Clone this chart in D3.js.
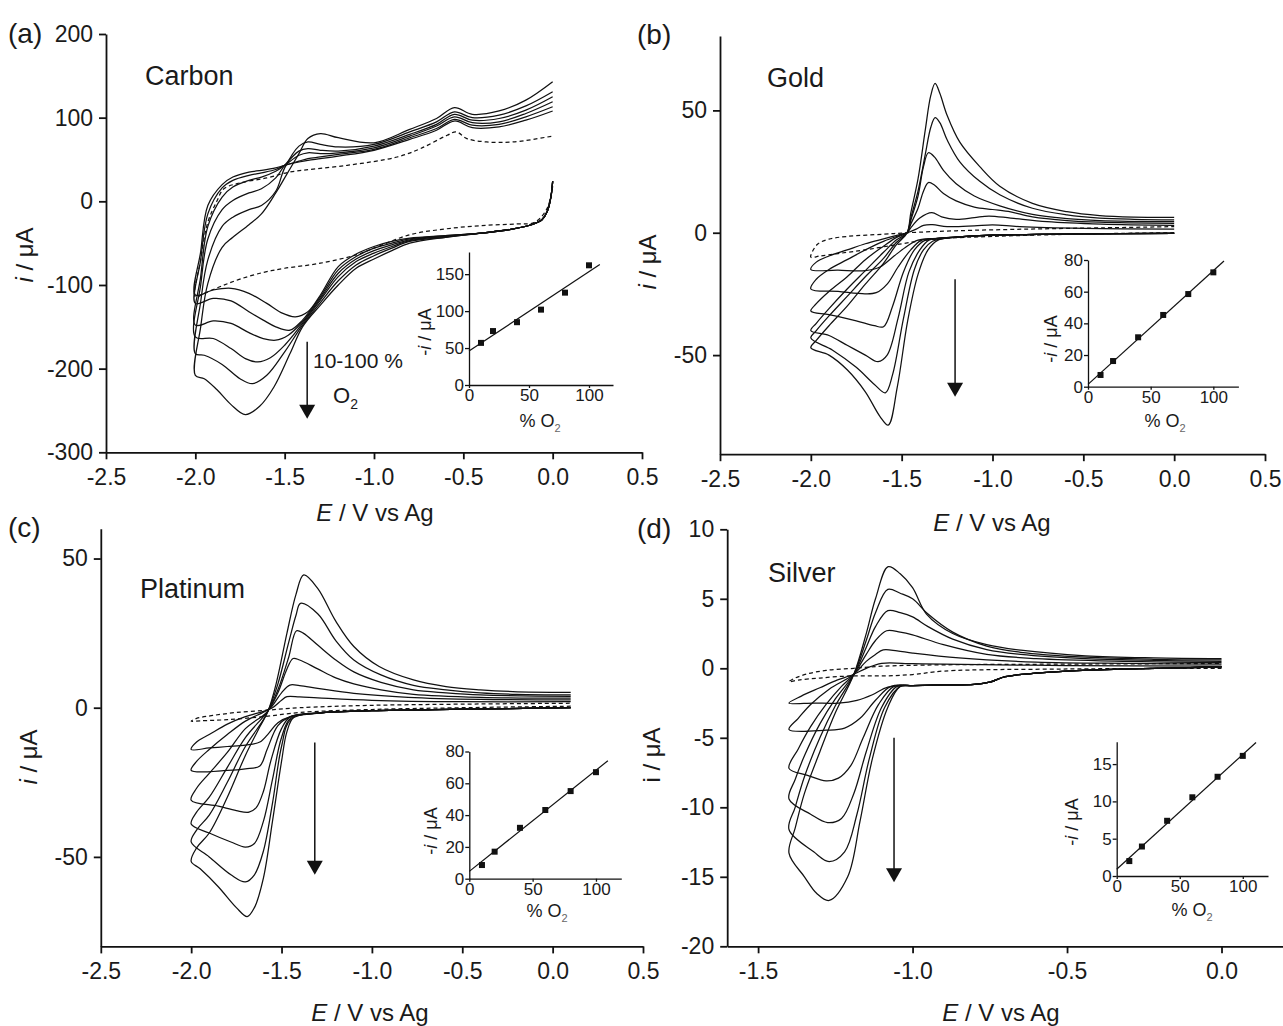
<!DOCTYPE html>
<html>
<head>
<meta charset="utf-8">
<script src="https://cdn.jsdelivr.net/npm/d3@7"></script>
<style>
	body { margin: 0; background: #fff; }
	svg text { font-family: "Liberation Sans", Arial, sans-serif; fill: #1a1a1a; }
</style>
</head>
<body>
<svg id="fig" width="1283" height="1026"></svg>
<script>

// ---- data: each scan is a list of [E (V vs Ag), i (uA)] ----
// first entry of every panel is the dashed (0 % O2) scan, then 10, 20, 40, 60, 80, 100 % O2

var o2Levels = [10, 20, 40, 60, 80, 100];

var carbonScans = [
	[[0,18],[-0.03,-8],[-0.1,-25],[-0.2,-27],[-0.4,-29],[-0.6,-33],[-0.8,-40],[-1.0,-56],[-1.1,-64],[-1.3,-74],[-1.5,-80],[-1.62,-85],[-1.75,-93],[-1.85,-101],[-1.95,-110],[-2.0,-114],
	 [-1.97,-70],[-1.93,-25],[-1.88,0],[-1.84,15],[-1.75,22],[-1.6,28],[-1.47,35],[-1.15,43],[-0.87,53],[-0.74,63],[-0.59,79],[-0.54,83],[-0.48,75],[-0.37,71],[-0.22,71],[0,78]],
	[[0,24],[-0.01,5],[-0.03,-12],[-0.06,-22],[-0.12,-28],[-0.22,-33],[-0.4,-38],[-0.6,-41],[-0.8,-44],[-0.9,-48],[-1.0,-54],[-1.1,-63],[-1.2,-78],[-1.3,-112],[-1.37,-132],[-1.44,-138],[-1.52,-133],[-1.6,-122],[-1.7,-110],[-1.8,-104],[-1.9,-106],[-2.0,-112],
	 [-1.97,-60],[-1.93,-5],[-1.85,20],[-1.79,29],[-1.7,35],[-1.63,37],[-1.55,40],[-1.5,43],[-1.42,47],[-1.37,49],[-1.3,51],[-1.2,54],[-1.0,61],[-0.8,74],[-0.65,85],[-0.55,96],[-0.45,88],[-0.3,89],[-0.15,97],[0,108]],
	[[0,24],[-0.01,5],[-0.03,-12],[-0.06,-22],[-0.12,-28],[-0.22,-33],[-0.4,-38],[-0.6,-41],[-0.8,-45],[-0.9,-50],[-1.0,-56],[-1.1,-66],[-1.2,-82],[-1.3,-114],[-1.4,-142],[-1.47,-154],[-1.55,-150],[-1.62,-142],[-1.7,-132],[-1.8,-119],[-1.9,-116],[-2.0,-122],
	 [-1.97,-70],[-1.93,-15],[-1.85,16],[-1.79,25],[-1.7,31],[-1.63,34],[-1.55,38],[-1.5,43],[-1.42,48],[-1.37,51],[-1.3,53],[-1.2,56],[-1.0,62],[-0.8,76],[-0.65,87],[-0.55,98],[-0.45,91],[-0.3,92],[-0.15,101],[0,113]],
	[[0,24],[-0.01,5],[-0.03,-12],[-0.06,-22],[-0.12,-28],[-0.22,-33],[-0.4,-38],[-0.6,-42],[-0.8,-46],[-0.9,-52],[-1.0,-59],[-1.1,-69],[-1.2,-86],[-1.3,-116],[-1.4,-144],[-1.48,-160],[-1.55,-166],[-1.62,-164],[-1.7,-157],[-1.8,-146],[-1.9,-143],[-2.0,-148],
	 [-1.97,-90],[-1.93,-30],[-1.85,5],[-1.79,17],[-1.7,25],[-1.63,29],[-1.55,36],[-1.5,43],[-1.42,55],[-1.37,58],[-1.3,57],[-1.2,58],[-1.0,64],[-0.8,78],[-0.65,90],[-0.55,101],[-0.45,94],[-0.3,95],[-0.15,105],[0,119]],
	[[0,24],[-0.01,5],[-0.03,-12],[-0.06,-22],[-0.12,-28],[-0.22,-33],[-0.4,-38],[-0.6,-42],[-0.8,-47],[-0.9,-54],[-1.0,-62],[-1.1,-72],[-1.2,-90],[-1.3,-118],[-1.4,-146],[-1.5,-172],[-1.58,-187],[-1.65,-192],[-1.72,-188],[-1.8,-176],[-1.9,-164],[-2.0,-162],
	 [-1.97,-100],[-1.93,-45],[-1.85,-10],[-1.79,1],[-1.7,10],[-1.63,15],[-1.55,28],[-1.5,43],[-1.42,60],[-1.37,63],[-1.3,61],[-1.2,60],[-1.0,66],[-0.8,80],[-0.65,92],[-0.55,104],[-0.45,97],[-0.3,99],[-0.15,109],[0,125]],
	[[0,24],[-0.01,5],[-0.03,-12],[-0.06,-22],[-0.12,-28],[-0.22,-33],[-0.4,-38],[-0.6,-43],[-0.8,-48],[-0.9,-56],[-1.0,-65],[-1.1,-76],[-1.2,-95],[-1.3,-121],[-1.4,-148],[-1.5,-180],[-1.6,-208],[-1.68,-218],[-1.75,-212],[-1.85,-195],[-1.95,-184],[-2.0,-182],
	 [-1.97,-120],[-1.93,-70],[-1.85,-30],[-1.79,-19],[-1.7,-10],[-1.63,-5],[-1.55,12],[-1.5,40],[-1.42,66],[-1.37,71],[-1.3,68],[-1.2,65],[-1.0,68],[-0.8,83],[-0.65,95],[-0.55,107],[-0.45,100],[-0.3,103],[-0.15,114],[0,131]],
	[[0,24],[-0.01,5],[-0.03,-12],[-0.06,-22],[-0.12,-28],[-0.22,-33],[-0.4,-38],[-0.6,-43],[-0.8,-50],[-0.9,-59],[-1.0,-69],[-1.1,-80],[-1.2,-100],[-1.3,-124],[-1.4,-150],[-1.47,-182],[-1.56,-222],[-1.64,-245],[-1.72,-255],[-1.8,-243],[-1.88,-225],[-1.95,-212],[-2.0,-208],
	 [-1.97,-150],[-1.93,-98],[-1.85,-55],[-1.79,-43],[-1.7,-28],[-1.63,-15],[-1.55,10],[-1.5,28],[-1.42,57],[-1.37,75],[-1.3,81],[-1.2,76],[-1.0,70],[-0.8,86],[-0.65,99],[-0.55,112],[-0.45,104],[-0.3,108],[-0.15,121],[0,143]]
];

var goldScans = [
	[[0,0],[-0.5,-0.5],[-1.0,-1.5],[-1.3,-2.5],[-1.5,-4.5],[-1.7,-7],[-1.85,-8.5],[-1.95,-9.5],[-2.0,-10],
	 [-1.99,-7.5],[-1.96,-4.5],[-1.9,-2.6],[-1.8,-1.5],[-1.6,-0.6],[-1.47,0],[-1.2,0.8],[-0.8,1.5],[-0.4,2],[0,2.5]],
	[[0,-0.3],[-0.5,-0.5],[-1.0,-1],[-1.2,-1.8],[-1.3,-2.3],[-1.41,-3],[-1.48,-6],[-1.55,-10],[-1.62,-14],[-1.7,-15.5],[-1.85,-15.3],[-2.0,-15],
	 [-1.97,-12],[-1.9,-9.5],[-1.8,-7],[-1.7,-4.5],[-1.6,-2.5],[-1.5,-0.6],[-1.47,0],[-1.42,1.5],[-1.38,3],[-1.33,3.3],[-1.25,2.5],[-1.1,2.8],[-1.0,3.2],[-0.85,2.5],[-0.5,1.8],[0,1.5]],
	[[0,-0.3],[-0.5,-0.5],[-1.0,-1],[-1.2,-1.8],[-1.3,-2.3],[-1.39,-3],[-1.45,-7],[-1.52,-14],[-1.58,-21],[-1.64,-24.5],[-1.7,-25],[-1.85,-24],[-2.0,-23],
	 [-1.97,-19],[-1.9,-15],[-1.8,-11],[-1.7,-7],[-1.6,-3.5],[-1.5,-0.8],[-1.47,0],[-1.45,2],[-1.4,6],[-1.334,8.2],[-1.28,6.5],[-1.2,5.5],[-1.1,6.2],[-1.02,6.8],[-0.9,6],[-0.7,4.5],[-0.4,3.5],[0,3]],
	[[0,-0.3],[-0.5,-0.5],[-1.0,-1],[-1.2,-1.8],[-1.3,-2.3],[-1.37,-3],[-1.43,-7],[-1.49,-16],[-1.55,-30],[-1.6,-38.4],[-1.65,-38],[-1.75,-36],[-1.9,-33.5],[-2.0,-32],
	 [-1.97,-29],[-1.9,-24],[-1.8,-18],[-1.7,-11],[-1.6,-5.5],[-1.53,-2],[-1.47,0],[-1.45,3.5],[-1.41,10],[-1.38,17],[-1.353,20.5],[-1.32,19.5],[-1.27,16],[-1.2,13],[-1.1,10.5],[-1.0,9.5],[-0.9,8.5],[-0.78,6.5],[-0.59,5],[-0.41,4.3],[0,3.8]],
	[[0,-0.3],[-0.5,-0.5],[-1.0,-1],[-1.2,-1.8],[-1.3,-2.3],[-1.35,-3],[-1.4,-7],[-1.46,-16],[-1.52,-35],[-1.58,-50],[-1.63,-52.7],[-1.7,-50],[-1.8,-46],[-1.9,-42],[-2.0,-40],
	 [-1.97,-37],[-1.9,-31],[-1.8,-23],[-1.7,-15.5],[-1.6,-8],[-1.53,-3],[-1.47,0],[-1.45,5],[-1.41,15],[-1.38,27],[-1.353,32.7],[-1.32,31],[-1.27,25.5],[-1.2,20],[-1.1,15],[-0.96,11],[-0.78,7.5],[-0.59,5.8],[-0.41,5],[0,4.5]],
	[[0,-0.3],[-0.5,-0.5],[-1.0,-1],[-1.2,-1.8],[-1.28,-2.5],[-1.33,-3.5],[-1.38,-7],[-1.43,-15],[-1.49,-35],[-1.55,-58],[-1.59,-65.4],[-1.65,-62],[-1.75,-55],[-1.88,-48],[-2.0,-43],
	 [-1.97,-40],[-1.9,-34],[-1.8,-26],[-1.7,-18],[-1.6,-10.5],[-1.53,-4],[-1.47,0],[-1.45,6],[-1.41,17],[-1.37,32],[-1.34,43],[-1.316,47],[-1.29,45],[-1.25,38],[-1.18,29],[-1.07,21],[-0.96,15.5],[-0.78,10],[-0.59,7.3],[-0.41,6],[-0.22,5.5],[0,5.3]],
	[[0,-0.3],[-0.5,-0.5],[-1.0,-1],[-1.2,-1.8],[-1.3,-3],[-1.355,-7],[-1.41,-17],[-1.467,-36],[-1.524,-63],[-1.574,-78.6],[-1.62,-75],[-1.7,-65],[-1.8,-56],[-1.9,-50],[-2.0,-47],
	 [-1.97,-44],[-1.9,-38],[-1.8,-30],[-1.7,-21],[-1.6,-12.5],[-1.53,-5],[-1.47,0],[-1.45,8],[-1.41,22],[-1.37,42],[-1.34,56],[-1.316,61],[-1.29,57],[-1.25,48],[-1.18,37],[-1.07,27],[-0.96,19],[-0.78,12],[-0.59,8.6],[-0.41,7],[-0.22,6.4],[0,6.3]]
];

var platinumScans = [
	[[0.1,0.5],[-0.5,0],[-1.0,-0.6],[-1.4,-1.6],[-1.6,-3],[-1.8,-4],[-1.95,-4.4],[-2.0,-4.5],
	 [-1.97,-3.6],[-1.88,-2.6],[-1.75,-1.6],[-1.574,-0.8],[-1.4,0],[-1.0,0.8],[-0.5,1.2],[0.1,1.5]],
	[[0.1,0],[-0.5,-0.5],[-1.0,-1],[-1.3,-1.8],[-1.45,-3],[-1.52,-5],[-1.57,-8.5],[-1.62,-11.5],[-1.7,-12.5],[-1.8,-13],[-1.9,-13.5],[-2.0,-14],
	 [-1.97,-11.5],[-1.9,-9],[-1.8,-5.5],[-1.7,-3],[-1.6,-1.2],[-1.55,0],[-1.5,2.5],[-1.47,3.7],[-1.4,3.6],[-1.3,3.3],[-1.0,2.5],[-0.5,2],[0.1,2]],
	[[0.1,0],[-0.5,-0.5],[-1.0,-1],[-1.3,-1.8],[-1.45,-3],[-1.52,-6],[-1.58,-14],[-1.62,-19.5],[-1.7,-20.5],[-1.8,-21],[-2.0,-21],
	 [-1.97,-18],[-1.9,-14],[-1.8,-9],[-1.7,-4.5],[-1.6,-1.5],[-1.56,0],[-1.5,5],[-1.454,7.6],[-1.4,7.4],[-1.3,6.5],[-1.1,4.8],[-0.8,3.5],[-0.4,2.8],[0.1,2.6]],
	[[0.1,0],[-0.5,-0.5],[-1.0,-1],[-1.3,-1.8],[-1.45,-3],[-1.5,-7],[-1.56,-18],[-1.6,-28],[-1.64,-33.5],[-1.68,-35],[-1.75,-34.5],[-1.85,-33],[-2.0,-31],
	 [-1.97,-27],[-1.9,-22],[-1.8,-15],[-1.7,-7],[-1.6,-2.5],[-1.574,-1],[-1.52,5],[-1.47,13],[-1.436,16.5],[-1.4,16],[-1.3,13],[-1.2,10],[-1.1,8],[-0.95,6],[-0.77,4.5],[-0.4,3.5],[0.1,3.2]],
	[[0.1,0],[-0.5,-0.5],[-1.0,-1],[-1.3,-1.8],[-1.45,-3.5],[-1.5,-10],[-1.55,-24],[-1.6,-38],[-1.65,-45.5],[-1.7,-46.7],[-1.78,-45],[-1.9,-42],[-2.0,-39],
	 [-1.97,-35],[-1.9,-30],[-1.8,-20],[-1.7,-10],[-1.6,-3],[-1.574,-1],[-1.52,6],[-1.46,17],[-1.417,25.8],[-1.38,25],[-1.3,21],[-1.2,16],[-1.1,12],[-0.95,8.5],[-0.77,6],[-0.59,5],[-0.4,4.3],[0.1,3.8]],
	[[0.1,0],[-0.5,-0.5],[-1.0,-1],[-1.3,-1.8],[-1.45,-4],[-1.5,-13],[-1.55,-32],[-1.6,-48],[-1.65,-56],[-1.7,-58.4],[-1.78,-56],[-1.9,-50],[-2.0,-45],
	 [-1.97,-41],[-1.9,-36],[-1.8,-25],[-1.7,-13],[-1.6,-4],[-1.574,-1],[-1.52,8],[-1.46,22],[-1.42,31],[-1.395,35],[-1.3,31.5],[-1.2,22.5],[-1.1,16],[-0.95,11],[-0.77,7.5],[-0.59,6],[-0.4,5],[-0.2,4.5],[0.1,4.3]],
	[[0.1,0],[-0.5,-0.5],[-1.0,-1],[-1.3,-1.8],[-1.43,-3],[-1.47,-8],[-1.5,-18],[-1.55,-38],[-1.6,-57],[-1.65,-67],[-1.69,-70],[-1.75,-67],[-1.85,-60],[-1.95,-54],[-2.0,-51.5],
	 [-1.97,-47],[-1.9,-42],[-1.8,-30],[-1.7,-16],[-1.62,-6.4],[-1.574,-1],[-1.53,8],[-1.47,25],[-1.42,38],[-1.377,44.5],[-1.3,40],[-1.2,29],[-1.1,20.5],[-0.96,13.8],[-0.77,9.3],[-0.59,7.1],[-0.4,6],[-0.22,5.4],[0.1,5.1]]
];

var silverScans = [
	[[0,0],[-0.5,-0.05],[-0.9,-0.2],[-1.0,-0.45],[-1.1,-0.55],[-1.2,-0.55],[-1.3,-0.7],[-1.37,-0.85],[-1.4,-0.96],
	 [-1.38,-0.7],[-1.34,-0.4],[-1.28,-0.15],[-1.19,0],[-1.1,0.15],[-0.9,0.25],[-0.5,0.3],[0,0.35]],
	[[0,0.1],[-0.3,-0.05],[-0.5,-0.2],[-0.6,-0.35],[-0.7,-0.6],[-0.75,-1.0],[-0.8,-1.15],[-0.9,-1.2],[-1.0,-1.25],[-1.08,-1.35],[-1.13,-1.9],[-1.18,-2.3],[-1.24,-2.5],[-1.32,-2.5],[-1.4,-2.5],
	 [-1.36,-2.0],[-1.3,-1.4],[-1.25,-0.9],[-1.19,-0.43],[-1.15,0],[-1.1,0.36],[-1.0,0.33],[-0.9,0.3],[-0.5,0.2],[0,0.15]],
	[[0,0.1],[-0.3,-0.05],[-0.5,-0.2],[-0.6,-0.35],[-0.7,-0.6],[-0.75,-1.0],[-0.8,-1.15],[-0.9,-1.2],[-1.0,-1.25],[-1.07,-1.3],[-1.12,-2.3],[-1.17,-3.6],[-1.22,-4.3],[-1.28,-4.45],[-1.4,-4.4],
	 [-1.37,-3.6],[-1.33,-2.6],[-1.27,-1.5],[-1.19,-0.43],[-1.15,0.5],[-1.12,1.0],[-1.095,1.32],[-1.05,1.25],[-1.0,1.1],[-0.85,0.75],[-0.6,0.45],[-0.3,0.35],[0,0.3]],
	[[0,0.1],[-0.3,-0.05],[-0.5,-0.2],[-0.6,-0.35],[-0.7,-0.6],[-0.75,-1.0],[-0.8,-1.15],[-0.9,-1.2],[-1.0,-1.25],[-1.06,-1.3],[-1.11,-2.6],[-1.16,-5],[-1.2,-7],[-1.24,-7.9],[-1.28,-8.1],[-1.34,-7.7],[-1.4,-7.2],
	 [-1.37,-5.8],[-1.33,-4.2],[-1.28,-2.6],[-1.23,-1.3],[-1.19,-0.43],[-1.15,1],[-1.12,2],[-1.084,2.7],[-1.04,2.6],[-1.0,2.4],[-0.9,1.7],[-0.76,1.0],[-0.6,0.7],[-0.3,0.5],[0,0.4]],
	[[0,0.1],[-0.3,-0.05],[-0.5,-0.2],[-0.6,-0.35],[-0.7,-0.6],[-0.75,-1.0],[-0.8,-1.15],[-0.9,-1.2],[-1.0,-1.25],[-1.05,-1.3],[-1.1,-2.8],[-1.15,-6],[-1.19,-9],[-1.23,-10.8],[-1.275,-11.1],[-1.33,-10.5],[-1.4,-9.4],
	 [-1.38,-8],[-1.35,-6.3],[-1.3,-4],[-1.25,-2.2],[-1.19,-0.43],[-1.15,1.5],[-1.12,3],[-1.08,4.15],[-1.04,4],[-1.0,3.7],[-0.95,3.0],[-0.87,2.1],[-0.76,1.35],[-0.65,1.0],[-0.44,0.7],[0,0.5]],
	[[0,0.1],[-0.3,-0.05],[-0.5,-0.2],[-0.6,-0.35],[-0.7,-0.6],[-0.75,-1.0],[-0.8,-1.15],[-0.9,-1.2],[-1.0,-1.25],[-1.04,-1.3],[-1.09,-2.8],[-1.14,-6.5],[-1.18,-10.5],[-1.22,-13.2],[-1.27,-13.9],[-1.32,-13.2],[-1.4,-11.6],
	 [-1.38,-10],[-1.35,-7.8],[-1.3,-5],[-1.25,-2.7],[-1.19,-0.43],[-1.15,2],[-1.12,4],[-1.08,5.68],[-1.04,5.4],[-1.0,5],[-0.95,3.9],[-0.87,2.6],[-0.76,1.6],[-0.65,1.15],[-0.44,0.8],[-0.22,0.65],[0,0.6]],
	[[0,0.1],[-0.3,-0.05],[-0.5,-0.2],[-0.6,-0.35],[-0.7,-0.6],[-0.75,-1.0],[-0.8,-1.15],[-0.9,-1.2],[-1.0,-1.25],[-1.04,-1.3],[-1.08,-2.8],[-1.13,-6.5],[-1.17,-11],[-1.21,-15],[-1.27,-16.7],[-1.31,-16.2],[-1.35,-15],[-1.4,-13.3],
	 [-1.38,-11.5],[-1.35,-9],[-1.3,-6],[-1.25,-3.2],[-1.19,-0.43],[-1.15,2.5],[-1.12,5],[-1.079,7.31],[-1.04,6.8],[-1.0,5.8],[-0.955,3.9],[-0.87,2.5],[-0.76,1.7],[-0.65,1.3],[-0.44,0.9],[-0.22,0.75],[0,0.7]]
];

// inset data: -i peak (uA) against % O2, plus the drawn fit line ends
var carbonPeaks = [57, 73, 85, 102, 125, 162];
var goldPeaks = [7.4, 16.2, 31.2, 45.3, 58.5, 72.2];
var platinumPeaks = [8.6, 17, 32, 43.2, 55.1, 67];
var silverPeaks = [2.0, 3.95, 7.4, 10.55, 13.3, 16.1];

var carbonFit = [[0, 46], [109, 163]];
var goldFit = [[0, 1.5], [108.5, 79.4]];
var platinumFit = [[0, 4.6], [109.4, 74.2]];
var silverFit = [[0, 0.9], [110.5, 17.9]];

// tick values
var wideETicks = [-2.5, -2.0, -1.5, -1.0, -0.5, 0.0, 0.5];
var silverETicks = [-1.5, -1.0, -0.5, 0.0];
var o2Ticks = [0, 50, 100];


var svg = d3.select("#fig");

var INK = "#111";

function styleAxis(a, fs, sw) {
	a.select(".domain").attr("stroke", INK).attr("stroke-width", sw);
	a.selectAll(".tick line").attr("stroke", INK).attr("stroke-width", sw);
	a.selectAll(".tick text")
		.attr("font-size", fs)
		.attr("font-family", '"Liberation Sans", Arial, sans-serif')
		.attr("fill", "#1a1a1a");
}

function drawPanel(p) {
	var g = svg.append("g");
	var x = d3.scaleLinear().domain(p.xDomain).range(p.xRange),
		y = d3.scaleLinear().domain(p.yDomain).range(p.yRange);

	var line = d3.line()
		.x(function (d) { return x(d[0]); })
		.y(function (d) { return y(d[1]); })
		.curve(d3.curveCatmullRom.alpha(0.5));

	g.selectAll(".scan")
		.data(p.scans)
		.enter().append("path")
		.attr("class", "scan")
		.attr("d", line)
		.attr("fill", "none")
		.attr("stroke", INK)
		.attr("stroke-width", 1.25)
		.attr("stroke-dasharray", function (d, k) { return k === 0 ? "4,3" : null; });

	var xa = g.append("g")
		.attr("transform", "translate(0," + p.yRange[0] + ")")
		.call(d3.axisBottom(x).tickValues(p.xTicks)
			.tickFormat(function (d) { return d.toFixed(1); })
			.tickSize(7).tickSizeOuter(0).tickPadding(9));
	styleAxis(xa, 23, 1.8);

	var ya = g.append("g")
		.attr("transform", "translate(" + p.xRange[0] + ",0)")
		.call(d3.axisLeft(y).tickValues(p.yTicks)
			.tickFormat(String)
			.tickSize(7).tickSizeOuter(0).tickPadding(6));
	styleAxis(ya, 23, 1.8);

	// concentration arrow
	var ax = x(p.arrow[0]), a0 = y(p.arrow[1]), a1 = y(p.arrow[2]);
	g.append("line")
		.attr("x1", ax).attr("x2", ax)
		.attr("y1", a0).attr("y2", a1 - 12)
		.attr("stroke", INK).attr("stroke-width", 1.5);
	g.append("path")
		.attr("d", "M" + (ax - 8) + "," + (a1 - 14) + "L" + (ax + 8) + "," + (a1 - 14) + "L" + ax + "," + a1 + "Z")
		.attr("fill", INK);

	return g;
}

function drawInset(p) {
	var g = svg.append("g");
	var x = d3.scaleLinear().domain([0, 120]).range(p.xRange),
		y = d3.scaleLinear().domain(p.yDomain).range(p.yRange);

	g.append("line")
		.attr("x1", x(p.fit[0][0])).attr("y1", y(p.fit[0][1]))
		.attr("x2", x(p.fit[1][0])).attr("y2", y(p.fit[1][1]))
		.attr("stroke", INK).attr("stroke-width", 1.2);

	g.selectAll(".pt")
		.data(p.peaks)
		.enter().append("rect")
		.attr("class", "pt")
		.attr("x", function (d, k) { return x(o2Levels[k]) - 3; })
		.attr("y", function (d) { return y(d) - 3; })
		.attr("width", 6).attr("height", 6)
		.attr("fill", INK);

	var xa = g.append("g")
		.attr("transform", "translate(0," + p.yRange[0] + ")")
		.call(d3.axisBottom(x).tickValues(o2Ticks).tickSize(3).tickSizeOuter(0).tickPadding(1));
	styleAxis(xa, 17, 1.3);

	var ya = g.append("g")
		.attr("transform", "translate(" + p.xRange[0] + ",0)")
		.call(d3.axisLeft(y).tickValues(p.yTicks).tickSize(4).tickSizeOuter(0).tickPadding(1));
	styleAxis(ya, 17, 1.3);

	// "-i / uA"
	var yl = g.append("text")
		.attr("transform", "translate(" + p.yLabel[0] + "," + p.yLabel[1] + ") rotate(-90)")
		.attr("text-anchor", "middle")
		.attr("dy", "0.35em")
		.attr("font-size", 18);
	yl.append("tspan").text("-");
	yl.append("tspan").attr("font-style", "italic").text("i");
	yl.append("tspan").text(" / \u03bcA");

	// "% O2"
	var xl = g.append("text")
		.attr("x", p.xLabel[0]).attr("y", p.xLabel[1])
		.attr("text-anchor", "middle")
		.attr("font-size", 18);
	xl.append("tspan").text("% O");
	xl.append("tspan").attr("font-size", 11).attr("dy", 5).attr("fill", "#666").text("2");
}

function label(txt, xx, yy, fs) {
	return svg.append("text").attr("x", xx).attr("y", yy).attr("font-size", fs).text(txt);
}

function eTitle(cx, yy) {
	var t = svg.append("text").attr("x", cx).attr("y", yy)
		.attr("text-anchor", "middle").attr("font-size", 24);
	t.append("tspan").attr("font-style", "italic").text("E");
	t.append("tspan").text(" / V vs Ag");
}

function iTitle(cx, cy, italic) {
	var t = svg.append("text")
		.attr("transform", "translate(" + cx + "," + cy + ") rotate(-90)")
		.attr("text-anchor", "middle").attr("dy", "0.35em").attr("font-size", 24);
	t.append("tspan").attr("font-style", italic ? "italic" : "normal").text("i");
	t.append("tspan").text(" / \u03bcA");
}


// (a) carbon
drawPanel({
	scans: carbonScans,
	xDomain: [-2.5, 0.5], xRange: [106, 642],
	yDomain: [-300, 200], yRange: [452.3, 34],
	xTicks: wideETicks, yTicks: [-300, -200, -100, 0, 100, 200],
	arrow: [-1.374, -168, -260]
});
drawInset({
	xRange: [469, 613], yDomain: [0, 180], yRange: [385, 252],
	yTicks: [0, 50, 100, 150], peaks: carbonPeaks, fit: carbonFit,
	yLabel: [425, 332], xLabel: [540, 427]
});

// (b) gold
drawPanel({
	scans: goldScans,
	xDomain: [-2.5, 0.5], xRange: [720, 1265],
	yDomain: [-90.5, 80.4], yRange: [454.2, 36],
	xTicks: wideETicks, yTicks: [-50, 0, 50],
	arrow: [-1.206, -19, -67]
});
drawInset({
	xRange: [1088, 1238.4], yDomain: [0, 80], yRange: [386.7, 260],
	yTicks: [0, 20, 40, 60, 80], peaks: goldPeaks, fit: goldFit,
	yLabel: [1051, 339], xLabel: [1165, 427]
});

// (c) platinum
drawPanel({
	scans: platinumScans,
	xDomain: [-2.5, 0.5], xRange: [100.8, 643],
	yDomain: [-80, 60], yRange: [946.4, 528.7],
	xTicks: wideETicks, yTicks: [-50, 0, 50],
	arrow: [-1.316, -11.7, -56]
});
drawInset({
	xRange: [469.3, 621.3], yDomain: [0, 80], yRange: [878.7, 751.5],
	yTicks: [0, 20, 40, 60, 80], peaks: platinumPeaks, fit: platinumFit,
	yLabel: [431, 831], xLabel: [547, 917]
});

// (d) silver
drawPanel({
	scans: silverScans,
	xDomain: [-1.6, 0.2], xRange: [727.2, 1283.3],
	yDomain: [-20, 10], yRange: [946.3, 529.3],
	xTicks: silverETicks, yTicks: [-20, -15, -10, -5, 0, 5, 10],
	arrow: [-1.06, -5, -15.4]
});
drawInset({
	xRange: [1116.7, 1268], yDomain: [0, 18], yRange: [876, 741.7],
	yTicks: [0, 5, 10, 15], peaks: silverPeaks, fit: silverFit,
	yLabel: [1072, 822], xLabel: [1192, 916]
});


// panel letters, electrode names, axis titles
label("(a)", 8, 43, 28);
label("(b)", 637, 44, 28);
label("(c)", 8, 537, 28);
label("(d)", 637, 538, 28);

label("Carbon", 145, 85, 27);
label("Gold", 767, 87, 27);
label("Platinum", 140, 598, 27);
label("Silver", 768, 582, 27);

eTitle(375, 521);
eTitle(992, 531);
eTitle(370, 1021);
eTitle(1001, 1021);

iTitle(25, 255, true);
iTitle(648, 262, true);
iTitle(29, 757, true);
iTitle(652, 755, false);

// (a) annotation next to the arrow
label("10-100 %", 313, 368, 21);
var o2 = svg.append("text").attr("x", 333).attr("y", 403).attr("font-size", 22);
o2.append("tspan").text("O");
o2.append("tspan").attr("font-size", 14).attr("dy", 6).text("2");

</script>
</body>
</html>
